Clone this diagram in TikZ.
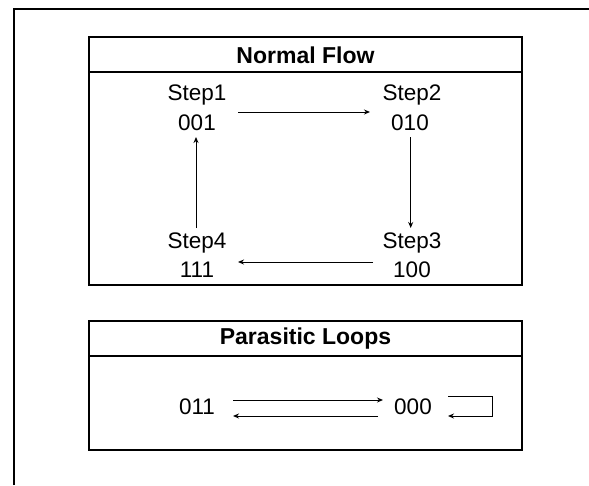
\documentclass[tikz,border=0pt]{standalone}
\usepackage{fontspec}
\setmainfont{Liberation Sans}
\usetikzlibrary{arrows.meta}
\begin{document}
\begin{tikzpicture}[x=1pt,y=-1pt,
  frame/.style={draw=black,line width=2pt},
  outer/.style={draw=black,line width=1.5pt},
  lbl/.style={font=\fontsize{22.5}{26}\selectfont,inner sep=0pt,anchor=base},
  hdr/.style={font=\fontsize{23}{27}\selectfont\bfseries,inner sep=0pt},
  flow/.style={draw=black,line width=1pt,-{Stealth[length=6pt,width=5pt]}}]
\useasboundingbox (0,0) rectangle (589,485);
% outer frame
\draw[outer] (14,485) -- (14,9) -- (589,9);
% Normal Flow box
\draw[frame] (89,37) rectangle (522,285);
\draw[frame] (89,72) -- (522,72);
\node[hdr] (h1) at (305.5,55) {Normal Flow};
% Parasitic box
\draw[frame] (89,321) rectangle (522,450);
\draw[frame] (89,356) -- (522,356);
\node[hdr] (h2) at (305.5,339) {Parasitic Loops};
% steps
\node[lbl] (t1) at (197,100) {Step1};
\node[lbl] (v1) at (197,130) {001};
\node[lbl] (t2) at (412,100) {Step2};
\node[lbl] (v2) at (410,130) {010};
\node[lbl] (t4) at (197,248) {Step4};
\node[lbl] (v4) at (197,277) {111};
\node[lbl] (t3) at (412,248) {Step3};
\node[lbl] (v3) at (412,277) {100};
\coordinate (a1s) at (238,112);
\coordinate (a1e) at (370,112);
\draw[flow] (a1s) -- (a1e);
\draw[flow] (410.7,137) -- (410.7,228);
\draw[flow] (373,262) -- (238,262);
\draw[flow] (196,228) -- (196,137);
% parasitic
\node[lbl] (p1) at (197,414) {011};
\node[lbl] (p2) at (413,414) {000};
\draw[flow] (233,400) -- (383,400);
\draw[flow] (378,416) -- (233,416);
\draw[flow] (448,396) -- (492,396) -- (492,416) -- (448,416);
\end{tikzpicture}
\end{document}
